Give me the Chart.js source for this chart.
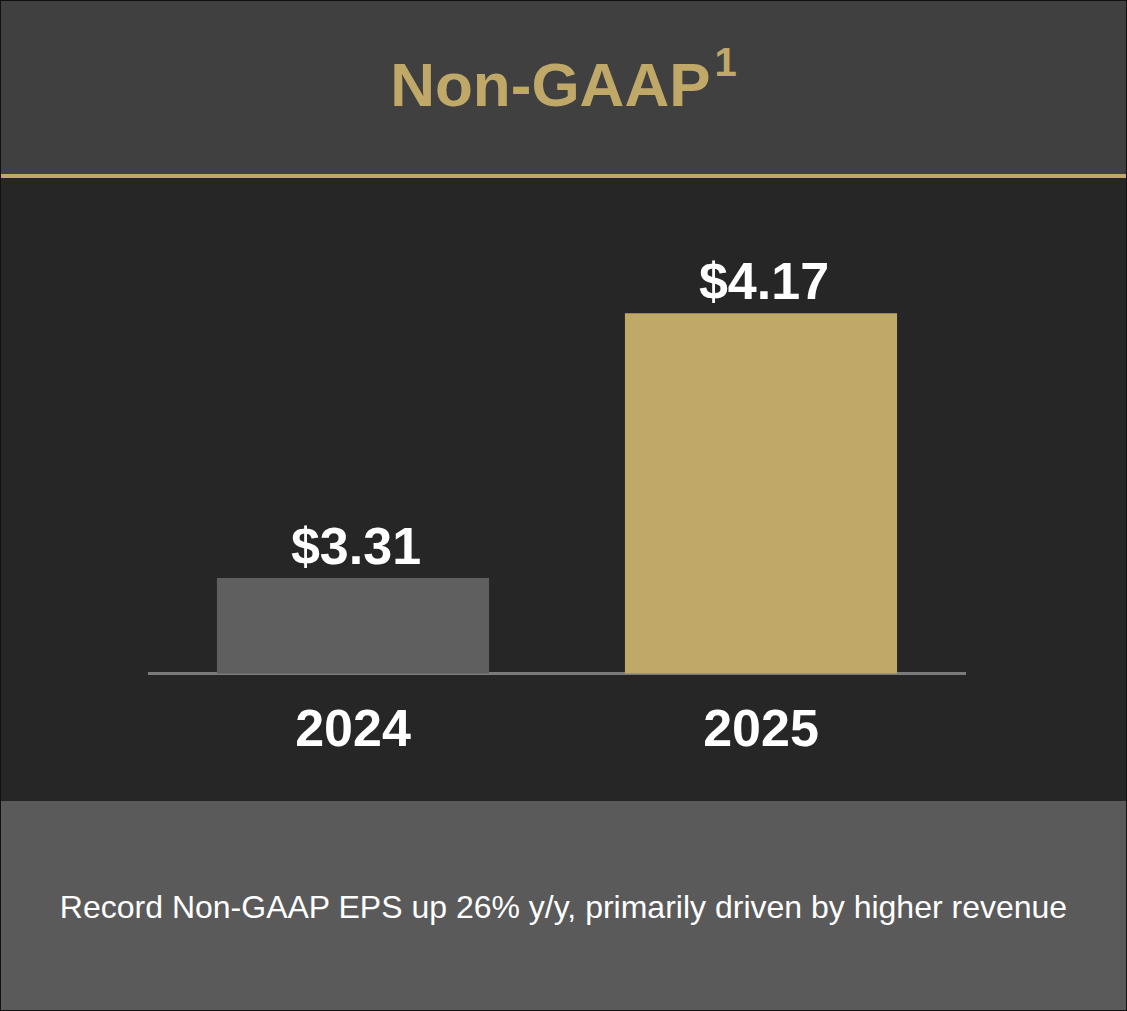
<!DOCTYPE html>
<html lang="en">
<head>
  <meta charset="UTF-8">
  <title>Non-GAAP EPS</title>
  <script src="https://cdn.jsdelivr.net/npm/chart.js"></script>
  <style>
    html, body { margin: 0; padding: 0; background: #000; }
    #frame {
      width: 1127px; height: 1011px; box-sizing: border-box;
      border: 1px solid #111; background: #262626;
      font-family: "Liberation Sans", Arial, sans-serif; position: relative;
    }
    #header {
      height: 173px; background: #404040; text-align: center;
      color: #c0a968; font-weight: bold; font-size: 62px; line-height: 1;
      padding-top: 53px; box-sizing: border-box;
    }
    #header sup { font-size: 40px; vertical-align: 0; position: relative; top: -30px; margin-left: 4px; }
    #rule { height: 4px; background: #c0a968; }
    #chartBox { height: 623px; background: #262626; position: relative; }
    #footer {
      height: 209px; background: #5a5a5a; color: #fff; font-size: 32px;
      text-align: center; line-height: 212px;
    }
  </style>
</head>
<body>
  <div id="frame">
    <div id="header">Non-GAAP<sup>1</sup></div>
    <div id="rule"></div>
    <div id="chartBox"><canvas id="epsChart" width="1125" height="623"></canvas></div>
    <div id="footer">Record Non-GAAP EPS up 26% y/y, primarily driven by higher revenue</div>
  </div>

  <script>
    // data
    const years = ['2024', '2025'];
    const epsValues = [3.31, 4.17];
    const barColors = ['#5f5f5f', '#c0a968'];

    // value labels above the bars
    const valueLabels = {
      id: 'valueLabels',
      afterDatasetsDraw(chart) {
        const ctx = chart.ctx;
        const meta = chart.getDatasetMeta(0);
        ctx.save();
        ctx.fillStyle = '#ffffff';
        ctx.font = 'bold 52px "Liberation Sans", Arial, sans-serif';
        ctx.textAlign = 'center';
        ctx.textBaseline = 'alphabetic';
        meta.data.forEach((bar, i) => {
          ctx.fillText('$' + epsValues[i].toFixed(2), bar.x + 3, bar.y - 14);
        });
        ctx.restore();
      }
    };

    const ctx = document.getElementById('epsChart').getContext('2d');
    new Chart(ctx, {
      type: 'bar',
      data: {
        labels: years,
        datasets: [{
          data: epsValues,
          backgroundColor: barColors,
          borderWidth: 0,
          barPercentage: 0.667,
          categoryPercentage: 1
        }]
      },
      options: {
        responsive: false,
        animation: false,
        layout: { padding: { left: 148, right: 161, top: 33.5, bottom: 11 } },
        plugins: { legend: { display: false }, tooltip: { enabled: false } },
        scales: {
          x: {
            z: 1,
            grid: { display: false, drawTicks: false },
            border: { display: true, color: '#7b7b7b', width: 3 },
            ticks: {
              color: '#ffffff',
              padding: 27,
              font: { family: '"Liberation Sans", Arial, sans-serif', size: 52, weight: 'bold' }
            }
          },
          y: {
            display: false,
            min: 3,
            max: 4.5
          }
        }
      },
      plugins: [valueLabels]
    });
  </script>
</body>
</html>
